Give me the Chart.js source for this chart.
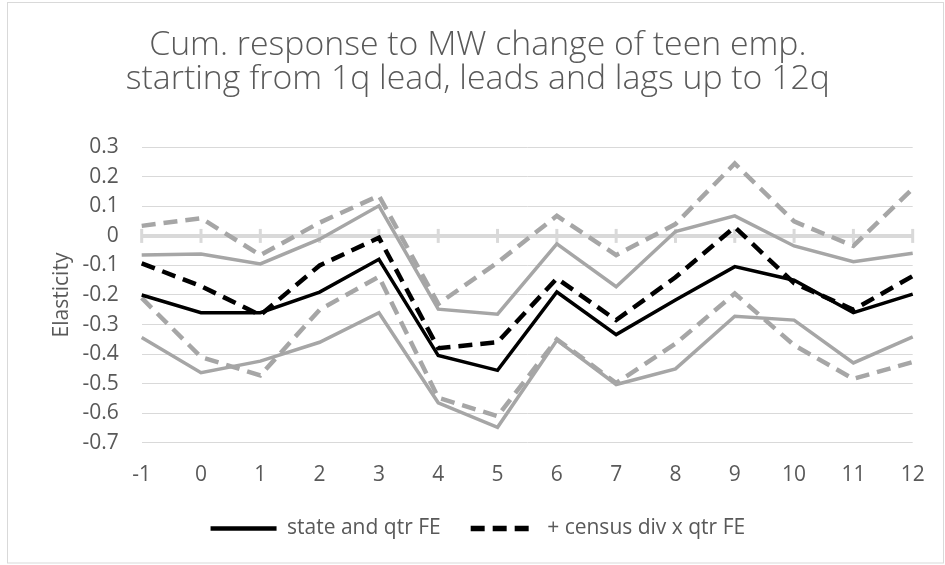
<!DOCTYPE html>
<html>
<head>
<meta charset="utf-8">
<title>Cum. response to MW change of teen emp.</title>
<script src="https://cdn.jsdelivr.net/npm/chart.js@4"></script>
<style>
    html, body { margin: 0; padding: 0; background: #FFFFFF; }
    #chart-box { position: relative; width: 945px; height: 565px; }
</style>
</head>
<body>
<div id="chart-box"><canvas id="elasticity-chart"></canvas></div>
<script>
// Leads/lags in quarters (x axis)
const quarters = ['-1', '0', '1', '2', '3', '4', '5', '6', '7', '8', '9', '10', '11', '12'];

// state and qtr FE: estimate and its band
const stateFE      = [-0.200, -0.260, -0.260, -0.190, -0.079, -0.405, -0.455, -0.190, -0.334, -0.217, -0.104, -0.150, -0.260, -0.197];
const stateFEUpper = [-0.065, -0.061, -0.095, -0.011,  0.102, -0.248, -0.265, -0.027, -0.172,  0.015,  0.068, -0.034, -0.087, -0.059];
const stateFELower = [-0.344, -0.463, -0.424, -0.360, -0.260, -0.565, -0.648, -0.353, -0.503, -0.450, -0.272, -0.285, -0.430, -0.342];

// + census div x qtr FE: estimate and its band
const censusFE      = [-0.093, -0.170, -0.268, -0.100, -0.006, -0.380, -0.360, -0.144, -0.285, -0.140,  0.030, -0.160, -0.250, -0.136];
const censusFEUpper = [ 0.034,  0.060, -0.065,  0.045,  0.136, -0.230, -0.090,  0.068, -0.065,  0.040,  0.245,  0.049, -0.034,  0.160];
const censusFELower = [-0.210, -0.410, -0.472, -0.250, -0.138, -0.548, -0.610, -0.350, -0.498, -0.365, -0.195, -0.370, -0.484, -0.427];

const TEXT_COLOR = '#595959';
const GRID_COLOR = '#D9D9D9';
const BAND_COLOR = '#A6A6A6';
const DASH = [14, 8];
const FONT = "'Open Sans', 'Liberation Sans', sans-serif";

// Small tick marks across the zero line, like the Excel horizontal axis
const zeroAxisTicks = {
    id: 'zeroAxisTicks',
    beforeDatasetsDraw(chart) {
        const { ctx, scales: { x, y } } = chart;
        const y0 = y.getPixelForValue(0);
        ctx.save();
        ctx.strokeStyle = GRID_COLOR;
        ctx.lineWidth = 3;
        quarters.forEach((q, i) => {
            const px = x.getPixelForValue(i);
            ctx.beginPath();
            ctx.moveTo(px, y0 - 7);
            ctx.lineTo(px, y0 + 7);
            ctx.stroke();
        });
        ctx.restore();
    }
};

// Thin frame around the whole chart
const chartFrame = {
    id: 'chartFrame',
    afterDraw(chart) {
        const { ctx } = chart;
        ctx.save();
        ctx.strokeStyle = GRID_COLOR;
        ctx.lineWidth = 1;
        ctx.strokeRect(7.5, 2.5, 936, 560.5);
        ctx.restore();
    }
};

function lineSet(label, data, color, dashed, width) {
    return {
        label,
        data,
        borderColor: color,
        backgroundColor: color,
        borderWidth: width,
        borderDash: dashed ? DASH : [],
        borderCapStyle: 'butt',
        borderJoinStyle: 'miter',
        pointRadius: 0,
        pointHoverRadius: 0,
        tension: 0,
        fill: false
    };
}

// Only the two point estimates go in the legend, drawn as (dashed) line samples
function legendLabels(chart) {
    const items = Chart.defaults.plugins.legend.labels.generateLabels(chart);
    return items.filter(item => item.datasetIndex < 2).map(item => {
        const ds = chart.data.datasets[item.datasetIndex];
        item.lineDash = ds.borderDash;
        item.lineWidth = ds.borderWidth + 1;
        item.lineCap = 'butt';
        item.pointStyle = 'line';
        return item;
    });
}

document.addEventListener('DOMContentLoaded', () => {
    const ctx = document.getElementById('elasticity-chart').getContext('2d');

    new Chart(ctx, {
        type: 'line',
        data: {
            labels: quarters,
            datasets: [
                lineSet('state and qtr FE', stateFE, '#000000', false, 3.5),
                lineSet('+ census div x qtr FE', censusFE, '#000000', true, 4.5),
                lineSet('upper state', stateFEUpper, BAND_COLOR, false, 3.5),
                lineSet('lower state', stateFELower, BAND_COLOR, false, 3.5),
                lineSet('upper census', censusFEUpper, BAND_COLOR, true, 4.5),
                lineSet('lower census', censusFELower, BAND_COLOR, true, 4.5)
            ]
        },
        options: {
            responsive: true,
            maintainAspectRatio: false,
            animation: false,
            devicePixelRatio: 1,
            layout: { padding: { top: 0, left: 43, right: 32.3, bottom: 16.1 } },
            scales: {
                x: {
                    type: 'category',
                    offset: false,
                    grid: { display: false, drawTicks: false },
                    border: { display: false },
                    ticks: {
                        color: TEXT_COLOR,
                        font: { family: FONT, size: 21 },
                        padding: 20,
                        maxRotation: 0,
                        autoSkip: false
                    },
                    afterFit: scale => { scale.height = 45.2; }
                },
                y: {
                    min: -0.7,
                    max: 0.3,
                    grid: {
                        drawTicks: false,
                        color: GRID_COLOR,
                        lineWidth: c => (Math.abs(c.tick.value) < 1e-9 ? 4 : 1)
                    },
                    border: { display: false },
                    ticks: {
                        stepSize: 0.1,
                        color: TEXT_COLOR,
                        font: { family: FONT, size: 21 },
                        padding: 23,
                        callback: v => String(parseFloat(v.toFixed(1)))
                    },
                    title: {
                        display: true,
                        text: 'Elasticity',
                        color: TEXT_COLOR,
                        font: { family: FONT, size: 21 },
                        padding: { top: 6, bottom: 0 }
                    },
                    afterFit: scale => { scale.width = 98.7; }
                }
            },
            plugins: {
                title: {
                    display: true,
                    text: ['Cum. response to MW change of teen emp.', 'starting from 1q lead, leads and lags up to 12q'],
                    color: TEXT_COLOR,
                    font: { family: FONT, size: 33.8, weight: '300', lineHeight: 0.988 },
                    padding: { top: 28.8, bottom: 51.7 }
                },
                legend: {
                    position: 'bottom',
                    labels: {
                        generateLabels: legendLabels,
                        usePointStyle: true,
                        pointStyleWidth: 66,
                        color: TEXT_COLOR,
                        font: { family: FONT, size: 21 },
                        padding: 30
                    }
                },
                tooltip: { enabled: false }
            }
        },
        plugins: [zeroAxisTicks, chartFrame]
    });
});
</script>
</body>
</html>
